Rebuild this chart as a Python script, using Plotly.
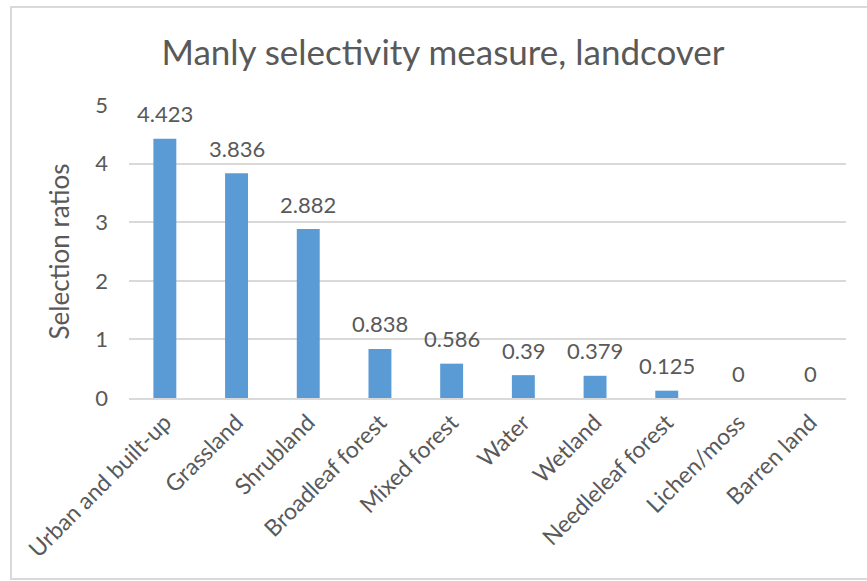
import plotly.graph_objects as go

categories = ["Urban and built-up", "Grassland", "Shrubland", "Broadleaf forest",
              "Mixed forest", "Water", "Wetland", "Needleleaf forest",
              "Lichen/moss", "Barren land"]
values = [4.423, 3.836, 2.882, 0.838, 0.586, 0.39, 0.379, 0.125, 0, 0]
value_labels = ["4.423", "3.836", "2.882", "0.838", "0.586", "0.39", "0.379", "0.125", "0", "0"]
y_ticks = [0, 1, 2, 3, 4, 5]

FONT = "Lato"
GREY = "#595959"

fig = go.Figure()
fig.add_trace(go.Bar(x=categories, y=values, marker=dict(color="#5B9BD5", line=dict(width=0)),
                     hoverinfo="x+y"))

for c, v, t in zip(categories, values, value_labels):
    fig.add_annotation(x=c, y=v, text=t, showarrow=False, yanchor="middle", yshift=25,
                       font=dict(family=FONT, size=22, color=GREY))

# chart-area border
L, R, T, B = 129, 21, 105, 183
W, H = 867, 581
pw, ph = W - L - R, H - T - B
fig.add_shape(type="rect", xref="paper", yref="paper",
              x0=(11 - L) / pw, x1=(875 - L) / pw,
              y0=(H - B - 579) / ph, y1=(H - B - 7) / ph,
              line=dict(color="#D9D9D9", width=2), fillcolor="rgba(0,0,0,0)", layer="below")

fig.update_layout(
    width=W, height=H,
    margin=dict(l=L, r=R, t=T, b=B),
    paper_bgcolor="white", plot_bgcolor="white",
    bargap=0.68,
    showlegend=False,
    title=dict(text="Manly selectivity measure, landcover", x=443 / W, xref="container",
               xanchor="center", y=(H - 53) / H, yanchor="middle",
               font=dict(family=FONT, size=35, color=GREY)),
    font=dict(family=FONT, color=GREY),
    xaxis=dict(tickangle=-45, tickfont=dict(family=FONT, size=23, color=GREY),
               showline=True, linecolor="#D9D9D9", linewidth=2, ticks="", showgrid=False),
    yaxis=dict(range=[0, 5], tickvals=y_ticks, tickfont=dict(family=FONT, size=22, color=GREY),
               showgrid=True, gridcolor="#D9D9D9", gridwidth=1.5, zeroline=False,
               showline=False, ticks="", ticklabelstandoff=20,
               title=dict(text="Selection ratios", font=dict(family=FONT, size=26, color=GREY),
                          standoff=18)),
)

fig.write_html("out.html")
